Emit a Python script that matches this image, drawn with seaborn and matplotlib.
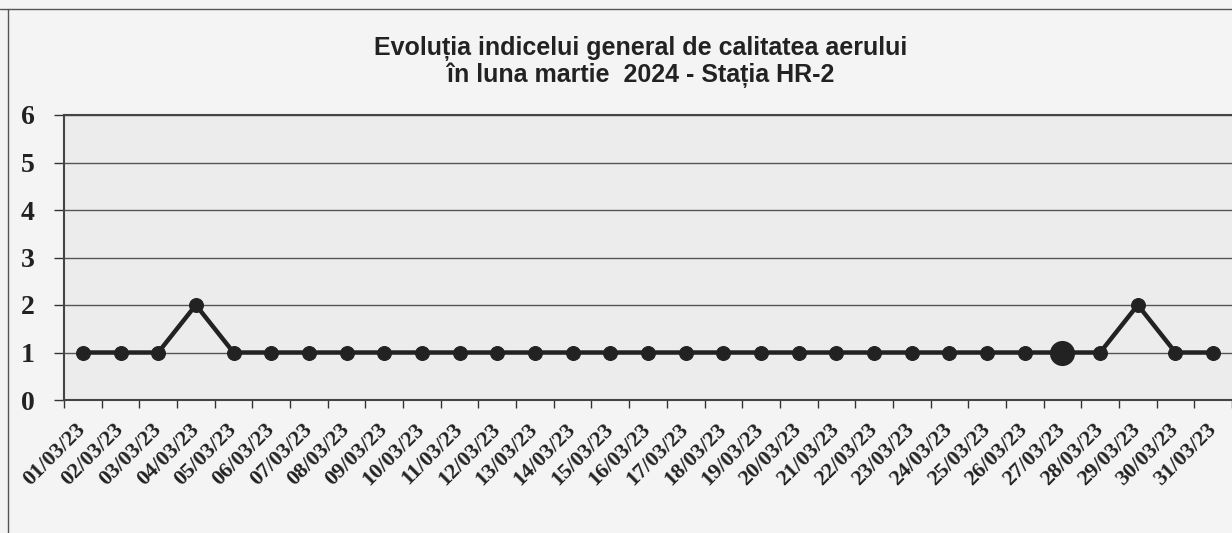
import matplotlib
matplotlib.use("Agg")
import matplotlib.pyplot as plt
import seaborn as sns
import pandas as pd
import numpy as np
from matplotlib.lines import Line2D

dates = [f"{d:02d}/03/23" for d in range(1, 32)]
values = [1, 1, 1, 2, 1, 1, 1, 1, 1, 1,
          1, 1, 1, 1, 1, 1, 1, 1, 1, 1,
          1, 1, 1, 1, 1, 1, 1, 1, 2, 1, 1]
highlight_date = "27/03/23"
y_ticks = [0, 1, 2, 3, 4, 5, 6]
title = "Evoluția indicelui general de calitatea aerului\nîn luna martie  2024 - Stația HR-2"

df = pd.DataFrame({"date": dates, "value": values})
df["pos"] = np.arange(len(df))

sns.set_theme(style="white")
plt.rcParams["font.family"] = ["Liberation Serif", "DejaVu Serif"]

fig = plt.figure(figsize=(12.32, 5.33), dpi=100, facecolor="#f4f4f4")
ax = fig.add_axes([64 / 1232, 1 - 400 / 533, 1 - 64 / 1232, (400 - 115) / 533])
ax.set_facecolor("#ececec")

sns.lineplot(data=df, x="pos", y="value", ax=ax, color="#222222", linewidth=3.2,
             marker="o", markersize=10, markeredgecolor="#222222", zorder=3)
hl = df[df["date"] == highlight_date]
sns.scatterplot(data=hl, x="pos", y="value", ax=ax, color="#222222", s=280,
                edgecolor="#222222", zorder=4, legend=False)

ax.set_xlim(-0.5, len(df) - 0.5)
ax.set_ylim(0, 6)
ax.set_yticks(y_ticks)
ax.set_yticklabels([str(t) for t in y_ticks], fontsize=20, fontweight="bold", color="#222222")
ax.set_xticks(df["pos"])
ax.set_xticklabels(df["date"], rotation=45, ha="right", va="center", rotation_mode="anchor",
                   fontsize=16, fontweight="bold", color="#222222")
ax.set_xticks(np.arange(-0.5, len(df) + 0.5, 1), minor=True)
ax.tick_params(axis="x", which="major", length=0, pad=19)
ax.tick_params(axis="x", which="minor", length=6, width=1, color="#333333", direction="out", bottom=True)
ax.tick_params(axis="y", length=7, width=1, color="#333333", direction="out", left=True, pad=14)
ax.grid(axis="y", color="#555555", linewidth=1)
ax.set_axisbelow(True)
ax.set_xlabel("")
ax.set_ylabel("")
for s in ["left", "bottom", "top"]:
    ax.spines[s].set_visible(True)
    ax.spines[s].set_color("#444444")
    ax.spines[s].set_linewidth(1.5)
ax.spines["right"].set_visible(False)

fig.text(0.52, 1 - 62 / 533, title, ha="center", va="center", fontsize=18,
         fontweight="bold", family=["Liberation Sans", "DejaVu Sans"], color="#222222",
         linespacing=1.03)

# page frame lines from the scanned document
fig.add_artist(Line2D([0, 1], [1 - 9 / 533, 1 - 9 / 533], color="#555555", linewidth=1))
fig.add_artist(Line2D([8 / 1232, 8 / 1232], [0, 1 - 9 / 533], color="#555555", linewidth=1))

fig.savefig("out.png", dpi=100, facecolor=fig.get_facecolor())
